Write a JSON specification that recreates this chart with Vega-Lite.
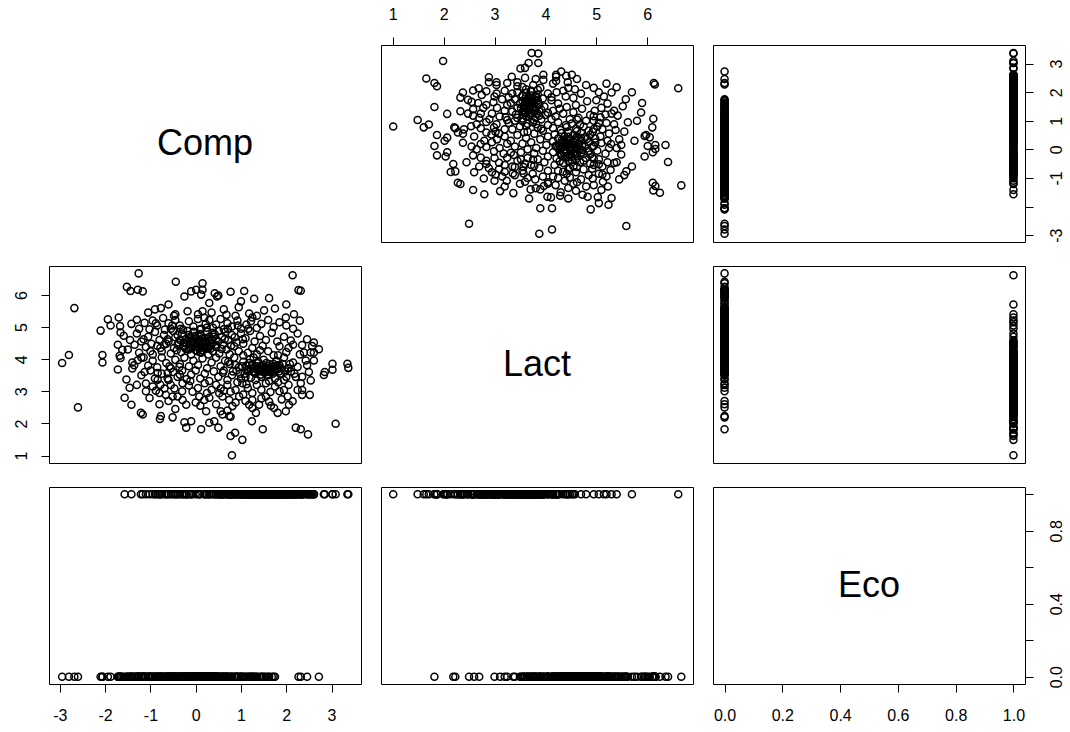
{
"$schema": "https://vega.github.io/schema/vega-lite/v6.json",
"background": "white",
"padding": {"left": 12, "top": 5, "right": 5, "bottom": 5},
"config": {
  "font": "Liberation Sans",
  "view": {"stroke": "black", "strokeWidth": 1},
  "axis": {"grid": false, "domain": false, "ticks": true, "tickColor": "black", "tickSize": 8, "tickWidth": 1, "labelFont": "Liberation Sans", "labelFontSize": 16, "labelColor": "black", "labelPadding": 15, "labelFlush": false, "labelOverlap": false},
  "point": {"shape": "circle", "filled": false, "size": 50, "strokeWidth": 1.5, "opacity": 1, "color": "black"}
},
"columns": 3,
"spacing": {"row": 24, "column": 20},
"bounds": "flush",
"resolve": {"scale": {"x": "independent", "y": "independent"}, "axis": {"x": "independent", "y": "independent"}},
"data": {"values": [
{"Comp":-1.52,"Lact":6.25,"Eco":0},{"Comp":-1.44,"Lact":6.12,"Eco":0},{"Comp":-2.68,"Lact":5.59,"Eco":0},{"Comp":-1.94,"Lact":5.24,"Eco":0},{"Comp":-1.70,"Lact":5.30,"Eco":0},{"Comp":-1.88,"Lact":5.05,"Eco":0},{"Comp":-1.67,"Lact":5.03,"Eco":0},{"Comp":-1.42,"Lact":5.10,"Eco":0},{"Comp":-2.10,"Lact":4.89,"Eco":0},{"Comp":-1.66,"Lact":4.83,"Eco":0},{"Comp":-1.59,"Lact":4.73,"Eco":0},{"Comp":-1.72,"Lact":4.45,"Eco":0},{"Comp":-1.62,"Lact":4.29,"Eco":0},{"Comp":-1.68,"Lact":4.11,"Eco":0},{"Comp":-1.66,"Lact":4.04,"Eco":0},{"Comp":-2.80,"Lact":4.13,"Eco":0},{"Comp":-2.95,"Lact":3.88,"Eco":0},{"Comp":-2.06,"Lact":4.13,"Eco":0},{"Comp":-2.06,"Lact":3.90,"Eco":0},{"Comp":-1.72,"Lact":3.68,"Eco":0},{"Comp":-1.40,"Lact":3.71,"Eco":0},{"Comp":-1.53,"Lact":3.37,"Eco":0},{"Comp":-1.46,"Lact":3.11,"Eco":0},{"Comp":-1.57,"Lact":2.80,"Eco":1},{"Comp":-1.42,"Lact":2.58,"Eco":1},{"Comp":-2.60,"Lact":2.50,"Eco":0},{"Comp":-1.26,"Lact":6.67,"Eco":0},{"Comp":-0.44,"Lact":6.41,"Eco":0},{"Comp":0.15,"Lact":6.36,"Eco":0},{"Comp":0.01,"Lact":6.16,"Eco":0},{"Comp":-0.10,"Lact":6.11,"Eco":0},{"Comp":-0.25,"Lact":5.95,"Eco":0},{"Comp":0.15,"Lact":6.16,"Eco":0},{"Comp":0.12,"Lact":6.01,"Eco":0},{"Comp":0.47,"Lact":5.95,"Eco":0},{"Comp":-1.28,"Lact":6.16,"Eco":0},{"Comp":-1.17,"Lact":6.11,"Eco":0},{"Comp":-0.77,"Lact":5.59,"Eco":0},{"Comp":-0.18,"Lact":5.49,"Eco":0},{"Comp":0.15,"Lact":5.49,"Eco":0},{"Comp":0.19,"Lact":5.29,"Eco":0},{"Comp":0.50,"Lact":5.98,"Eco":0},{"Comp":0.77,"Lact":6.10,"Eco":0},{"Comp":1.07,"Lact":6.12,"Eco":0},{"Comp":0.88,"Lact":5.35,"Eco":0},{"Comp":1.29,"Lact":5.88,"Eco":0},{"Comp":1.51,"Lact":5.52,"Eco":0},{"Comp":1.75,"Lact":5.58,"Eco":0},{"Comp":1.18,"Lact":5.42,"Eco":0},{"Comp":1.99,"Lact":5.30,"Eco":1},{"Comp":2.17,"Lact":5.40,"Eco":1},{"Comp":2.14,"Lact":6.61,"Eco":1},{"Comp":2.27,"Lact":6.15,"Eco":0},{"Comp":2.32,"Lact":6.13,"Eco":0},{"Comp":-1.36,"Lact":3.81,"Eco":0},{"Comp":-1.13,"Lact":3.60,"Eco":0},{"Comp":-1.10,"Lact":3.24,"Eco":1},{"Comp":-0.84,"Lact":3.57,"Eco":0},{"Comp":-0.84,"Lact":3.36,"Eco":1},{"Comp":-0.62,"Lact":3.57,"Eco":0},{"Comp":-0.58,"Lact":3.78,"Eco":0},{"Comp":-0.36,"Lact":3.76,"Eco":0},{"Comp":-0.69,"Lact":3.09,"Eco":1},{"Comp":-0.66,"Lact":2.89,"Eco":1},{"Comp":-0.47,"Lact":3.09,"Eco":1},{"Comp":-0.29,"Lact":3.25,"Eco":0},{"Comp":-0.51,"Lact":2.84,"Eco":1},{"Comp":-0.40,"Lact":2.84,"Eco":1},{"Comp":-0.29,"Lact":2.73,"Eco":1},{"Comp":-0.21,"Lact":2.58,"Eco":1},{"Comp":-0.07,"Lact":2.99,"Eco":1},{"Comp":0.08,"Lact":2.84,"Eco":1},{"Comp":0.19,"Lact":2.73,"Eco":1},{"Comp":-1.02,"Lact":2.79,"Eco":1},{"Comp":-1.21,"Lact":2.33,"Eco":1},{"Comp":-1.17,"Lact":2.28,"Eco":1},{"Comp":-0.77,"Lact":2.23,"Eco":0},{"Comp":-0.79,"Lact":2.14,"Eco":1},{"Comp":-0.51,"Lact":2.19,"Eco":0},{"Comp":-0.25,"Lact":2.04,"Eco":1},{"Comp":-0.10,"Lact":2.07,"Eco":1},{"Comp":-0.21,"Lact":1.87,"Eco":1},{"Comp":0.23,"Lact":2.38,"Eco":1},{"Comp":0.12,"Lact":1.82,"Eco":0},{"Comp":0.30,"Lact":2.02,"Eco":1},{"Comp":0.41,"Lact":2.07,"Eco":1},
{"Comp":0.55,"Lact":2.38,"Eco":1},{"Comp":0.59,"Lact":2.28,"Eco":1},{"Comp":0.74,"Lact":2.23,"Eco":1},{"Comp":0.77,"Lact":2.21,"Eco":1},{"Comp":1.33,"Lact":2.33,"Eco":1},{"Comp":1.81,"Lact":2.33,"Eco":1},{"Comp":1.99,"Lact":2.38,"Eco":1},{"Comp":1.24,"Lact":2.07,"Eco":1},{"Comp":1.48,"Lact":1.82,"Eco":1},{"Comp":2.21,"Lact":1.87,"Eco":1},{"Comp":0.77,"Lact":1.61,"Eco":1},{"Comp":0.87,"Lact":1.71,"Eco":1},{"Comp":1.03,"Lact":1.49,"Eco":1},{"Comp":0.80,"Lact":1.01,"Eco":1},{"Comp":0.50,"Lact":1.87,"Eco":1},{"Comp":3.09,"Lact":1.99,"Eco":1},{"Comp":2.32,"Lact":1.82,"Eco":1},{"Comp":2.48,"Lact":1.66,"Eco":1},
{"Comp":2.46,"Lact":4.62,"Eco":0},{"Comp":2.35,"Lact":4.44,"Eco":1},{"Comp":2.57,"Lact":4.41,"Eco":1},{"Comp":2.72,"Lact":4.31,"Eco":0},{"Comp":2.61,"Lact":4.52,"Eco":1},{"Comp":2.54,"Lact":4.21,"Eco":1},{"Comp":2.39,"Lact":4.21,"Eco":1},{"Comp":2.61,"Lact":4.21,"Eco":1},{"Comp":2.43,"Lact":3.96,"Eco":1},{"Comp":2.61,"Lact":3.96,"Eco":1},{"Comp":3.02,"Lact":3.86,"Eco":1},{"Comp":3.35,"Lact":3.86,"Eco":1},{"Comp":2.46,"Lact":3.81,"Eco":1},{"Comp":2.50,"Lact":3.60,"Eco":1},{"Comp":2.54,"Lact":3.34,"Eco":1},{"Comp":2.35,"Lact":3.45,"Eco":1},{"Comp":2.32,"Lact":3.25,"Eco":1},{"Comp":2.35,"Lact":3.04,"Eco":1},{"Comp":2.52,"Lact":2.89,"Eco":1},{"Comp":2.35,"Lact":2.89,"Eco":1},{"Comp":2.85,"Lact":3.60,"Eco":1},{"Comp":3.02,"Lact":3.67,"Eco":1},{"Comp":3.37,"Lact":3.73,"Eco":1},{"Comp":2.83,"Lact":3.51,"Eco":1},
{"Comp":0.81,"Lact":2.54,"Eco":1},{"Comp":1.55,"Lact":2.84,"Eco":1},{"Comp":1.66,"Lact":2.55,"Eco":1},{"Comp":1.73,"Lact":2.48,"Eco":1},{"Comp":1.25,"Lact":2.73,"Eco":1},{"Comp":1.25,"Lact":2.48,"Eco":1},{"Comp":1.40,"Lact":2.58,"Eco":1},{"Comp":1.18,"Lact":2.58,"Eco":1},{"Comp":0.96,"Lact":2.84,"Eco":1},{"Comp":0.88,"Lact":3.04,"Eco":1},{"Comp":0.74,"Lact":2.73,"Eco":1},{"Comp":0.59,"Lact":2.84,"Eco":1},{"Comp":0.52,"Lact":2.94,"Eco":1},{"Comp":0.55,"Lact":3.09,"Eco":1},{"Comp":0.77,"Lact":2.99,"Eco":1},{"Comp":1.03,"Lact":3.25,"Eco":1},{"Comp":2.25,"Lact":3.76,"Eco":1},{"Comp":2.21,"Lact":3.45,"Eco":1},{"Comp":2.03,"Lact":3.71,"Eco":1},{"Comp":1.88,"Lact":3.55,"Eco":1},{"Comp":1.73,"Lact":3.65,"Eco":1},{"Comp":1.81,"Lact":3.81,"Eco":1},{"Comp":2.03,"Lact":2.84,"Eco":1},{"Comp":2.06,"Lact":2.58,"Eco":1},{"Comp":2.14,"Lact":2.69,"Eco":1},{"Comp":1.95,"Lact":3.04,"Eco":1},{"Comp":2.25,"Lact":3.04,"Eco":1},
{"Comp":-1.30,"Lact":5.23,"Eco":0},{"Comp":-1.13,"Lact":5.13,"Eco":0},{"Comp":-1.02,"Lact":4.93,"Eco":0},{"Comp":-0.95,"Lact":5.20,"Eco":0},{"Comp":-0.85,"Lact":5.05,"Eco":0},{"Comp":-0.72,"Lact":5.28,"Eco":0},{"Comp":-0.60,"Lact":5.12,"Eco":0},{"Comp":-0.55,"Lact":4.95,"Eco":0},{"Comp":-0.45,"Lact":5.22,"Eco":0},{"Comp":-0.35,"Lact":5.05,"Eco":0},{"Comp":-0.28,"Lact":4.92,"Eco":0},{"Comp":-0.15,"Lact":5.18,"Eco":0},{"Comp":-0.05,"Lact":5.02,"Eco":0},{"Comp":0.05,"Lact":5.25,"Eco":0},{"Comp":0.12,"Lact":4.95,"Eco":0},{"Comp":0.22,"Lact":5.10,"Eco":0},{"Comp":0.30,"Lact":5.22,"Eco":0},{"Comp":0.38,"Lact":4.98,"Eco":0},{"Comp":0.45,"Lact":5.08,"Eco":0},{"Comp":0.55,"Lact":5.25,"Eco":0},{"Comp":0.62,"Lact":4.93,"Eco":0},{"Comp":0.70,"Lact":5.12,"Eco":0},{"Comp":0.80,"Lact":5.02,"Eco":0},{"Comp":0.92,"Lact":5.20,"Eco":0},{"Comp":1.00,"Lact":4.95,"Eco":0},{"Comp":1.12,"Lact":5.08,"Eco":0},{"Comp":1.22,"Lact":5.18,"Eco":0},{"Comp":1.35,"Lact":4.97,"Eco":0},{"Comp":1.45,"Lact":5.10,"Eco":0},{"Comp":1.60,"Lact":5.22,"Eco":0},{"Comp":1.72,"Lact":5.00,"Eco":0},{"Comp":1.85,"Lact":5.15,"Eco":1},{"Comp":2.00,"Lact":5.05,"Eco":1},{"Comp":2.15,"Lact":4.95,"Eco":1},{"Comp":2.30,"Lact":5.20,"Eco":1},
{"Comp":-1.45,"Lact":4.60,"Eco":0},{"Comp":-1.30,"Lact":4.80,"Eco":0},{"Comp":-1.20,"Lact":4.55,"Eco":0},{"Comp":-1.05,"Lact":4.70,"Eco":0},{"Comp":-0.90,"Lact":4.85,"Eco":0},{"Comp":-0.80,"Lact":4.60,"Eco":0},{"Comp":-0.70,"Lact":4.75,"Eco":0},{"Comp":-0.60,"Lact":4.55,"Eco":0},{"Comp":-0.50,"Lact":4.88,"Eco":0},{"Comp":-0.45,"Lact":4.68,"Eco":0},{"Comp":-0.38,"Lact":4.52,"Eco":0},{"Comp":-0.30,"Lact":4.80,"Eco":0},{"Comp":-0.22,"Lact":4.62,"Eco":0},{"Comp":-0.15,"Lact":4.75,"Eco":0},{"Comp":-0.10,"Lact":4.55,"Eco":0},{"Comp":-0.05,"Lact":4.85,"Eco":0},{"Comp":0.00,"Lact":4.68,"Eco":0},{"Comp":0.05,"Lact":4.58,"Eco":0},{"Comp":0.10,"Lact":4.78,"Eco":0},{"Comp":0.15,"Lact":4.65,"Eco":0},{"Comp":0.20,"Lact":4.52,"Eco":0},{"Comp":0.25,"Lact":4.85,"Eco":0},{"Comp":0.30,"Lact":4.70,"Eco":0},{"Comp":0.35,"Lact":4.60,"Eco":0},{"Comp":0.42,"Lact":4.78,"Eco":0},{"Comp":0.50,"Lact":4.55,"Eco":0},{"Comp":0.58,"Lact":4.70,"Eco":0},{"Comp":0.65,"Lact":4.85,"Eco":0},{"Comp":0.72,"Lact":4.60,"Eco":0},{"Comp":0.80,"Lact":4.75,"Eco":0},{"Comp":0.90,"Lact":4.52,"Eco":0},{"Comp":1.00,"Lact":4.80,"Eco":0},{"Comp":1.10,"Lact":4.65,"Eco":0},{"Comp":1.20,"Lact":4.88,"Eco":0},{"Comp":1.30,"Lact":4.55,"Eco":0},{"Comp":1.42,"Lact":4.72,"Eco":0},{"Comp":1.55,"Lact":4.60,"Eco":0},{"Comp":1.68,"Lact":4.82,"Eco":0},{"Comp":1.80,"Lact":4.55,"Eco":1},{"Comp":1.95,"Lact":4.70,"Eco":1},{"Comp":2.10,"Lact":4.58,"Eco":1},{"Comp":2.25,"Lact":4.80,"Eco":1},
{"Comp":-1.50,"Lact":4.30,"Eco":0},{"Comp":-1.35,"Lact":4.45,"Eco":0},{"Comp":-1.25,"Lact":4.20,"Eco":0},{"Comp":-1.10,"Lact":4.38,"Eco":0},{"Comp":-0.95,"Lact":4.15,"Eco":0},{"Comp":-0.85,"Lact":4.42,"Eco":0},{"Comp":-0.75,"Lact":4.25,"Eco":0},{"Comp":-0.65,"Lact":4.48,"Eco":0},{"Comp":-0.55,"Lact":4.18,"Eco":0},{"Comp":-0.48,"Lact":4.35,"Eco":0},{"Comp":-0.40,"Lact":4.45,"Eco":0},{"Comp":-0.32,"Lact":4.22,"Eco":0},{"Comp":-0.25,"Lact":4.38,"Eco":0},{"Comp":-0.20,"Lact":4.48,"Eco":0},{"Comp":-0.15,"Lact":4.30,"Eco":0},{"Comp":-0.10,"Lact":4.15,"Eco":0},{"Comp":-0.05,"Lact":4.42,"Eco":0},{"Comp":0.00,"Lact":4.28,"Eco":0},{"Comp":0.02,"Lact":4.50,"Eco":0},{"Comp":0.08,"Lact":4.35,"Eco":0},{"Comp":0.12,"Lact":4.20,"Eco":0},{"Comp":0.18,"Lact":4.45,"Eco":0},{"Comp":0.22,"Lact":4.32,"Eco":0},{"Comp":0.28,"Lact":4.15,"Eco":0},{"Comp":0.32,"Lact":4.42,"Eco":0},{"Comp":0.38,"Lact":4.25,"Eco":0},{"Comp":0.45,"Lact":4.38,"Eco":0},{"Comp":0.52,"Lact":4.18,"Eco":0},{"Comp":0.60,"Lact":4.45,"Eco":0},{"Comp":0.68,"Lact":4.30,"Eco":0},{"Comp":0.75,"Lact":4.15,"Eco":1},{"Comp":0.85,"Lact":4.40,"Eco":0},{"Comp":0.95,"Lact":4.25,"Eco":1},{"Comp":1.05,"Lact":4.48,"Eco":1},{"Comp":1.15,"Lact":4.20,"Eco":1},{"Comp":1.25,"Lact":4.35,"Eco":0},{"Comp":1.35,"Lact":4.15,"Eco":1},{"Comp":1.48,"Lact":4.42,"Eco":0},{"Comp":1.60,"Lact":4.25,"Eco":1},{"Comp":1.72,"Lact":4.12,"Eco":1},{"Comp":1.85,"Lact":4.40,"Eco":1},{"Comp":2.00,"Lact":4.22,"Eco":1},{"Comp":2.15,"Lact":4.45,"Eco":1},{"Comp":2.30,"Lact":4.15,"Eco":1},
{"Comp":-0.18,"Lact":4.58,"Eco":0},{"Comp":-0.08,"Lact":4.40,"Eco":0},{"Comp":0.04,"Lact":4.62,"Eco":0},{"Comp":0.14,"Lact":4.28,"Eco":0},{"Comp":0.26,"Lact":4.55,"Eco":0},{"Comp":0.36,"Lact":4.48,"Eco":0},{"Comp":-0.28,"Lact":4.42,"Eco":0},{"Comp":0.06,"Lact":4.46,"Eco":0},{"Comp":0.20,"Lact":4.66,"Eco":0},{"Comp":-0.12,"Lact":4.70,"Eco":0},{"Comp":0.32,"Lact":4.32,"Eco":0},{"Comp":0.10,"Lact":4.22,"Eco":0},{"Comp":-0.35,"Lact":4.60,"Eco":0},{"Comp":0.45,"Lact":4.62,"Eco":0},{"Comp":0.00,"Lact":4.38,"Eco":0},{"Comp":0.24,"Lact":4.40,"Eco":0},
{"Comp":-1.40,"Lact":3.90,"Eco":0},{"Comp":-1.28,"Lact":3.97,"Eco":0},{"Comp":-1.15,"Lact":4.05,"Eco":0},{"Comp":-1.05,"Lact":3.80,"Eco":0},{"Comp":-0.95,"Lact":3.95,"Eco":0},{"Comp":-0.85,"Lact":3.75,"Eco":0},{"Comp":-0.75,"Lact":4.05,"Eco":0},{"Comp":-0.65,"Lact":3.88,"Eco":0},{"Comp":-0.55,"Lact":3.72,"Eco":0},{"Comp":-0.45,"Lact":3.98,"Eco":0},{"Comp":-0.35,"Lact":3.85,"Eco":0},{"Comp":-0.25,"Lact":4.05,"Eco":0},{"Comp":-0.15,"Lact":3.78,"Eco":0},{"Comp":-0.05,"Lact":3.95,"Eco":0},{"Comp":0.05,"Lact":3.82,"Eco":0},{"Comp":0.15,"Lact":4.02,"Eco":0},{"Comp":0.25,"Lact":3.72,"Eco":0},{"Comp":0.35,"Lact":3.90,"Eco":0},{"Comp":0.45,"Lact":4.05,"Eco":0},{"Comp":0.55,"Lact":3.78,"Eco":1},{"Comp":0.65,"Lact":3.95,"Eco":1},{"Comp":0.75,"Lact":3.85,"Eco":1},{"Comp":0.85,"Lact":4.05,"Eco":1},{"Comp":0.95,"Lact":3.75,"Eco":1},{"Comp":1.05,"Lact":3.92,"Eco":1},{"Comp":1.12,"Lact":3.80,"Eco":1},{"Comp":1.20,"Lact":4.00,"Eco":1},{"Comp":1.28,"Lact":3.72,"Eco":1},{"Comp":1.35,"Lact":3.88,"Eco":1},{"Comp":1.42,"Lact":3.78,"Eco":1},{"Comp":1.50,"Lact":3.98,"Eco":1},{"Comp":1.55,"Lact":3.72,"Eco":1},{"Comp":1.62,"Lact":3.85,"Eco":1},{"Comp":1.70,"Lact":3.75,"Eco":1},{"Comp":1.78,"Lact":3.95,"Eco":1},{"Comp":1.85,"Lact":3.82,"Eco":1},{"Comp":1.95,"Lact":4.05,"Eco":1},{"Comp":2.05,"Lact":3.72,"Eco":1},{"Comp":2.15,"Lact":3.90,"Eco":1},
{"Comp":1.15,"Lact":3.62,"Eco":1},{"Comp":1.25,"Lact":3.85,"Eco":1},{"Comp":1.32,"Lact":3.55,"Eco":1},{"Comp":1.40,"Lact":3.70,"Eco":1},{"Comp":1.48,"Lact":3.82,"Eco":1},{"Comp":1.52,"Lact":3.58,"Eco":1},{"Comp":1.58,"Lact":3.68,"Eco":1},{"Comp":1.65,"Lact":3.60,"Eco":1},{"Comp":1.72,"Lact":3.85,"Eco":1},{"Comp":1.80,"Lact":3.68,"Eco":1},{"Comp":1.38,"Lact":3.92,"Eco":1},{"Comp":1.45,"Lact":3.62,"Eco":1},{"Comp":1.60,"Lact":3.78,"Eco":1},{"Comp":1.68,"Lact":3.70,"Eco":1},{"Comp":1.22,"Lact":3.70,"Eco":1},{"Comp":1.88,"Lact":3.72,"Eco":1},
{"Comp":-1.20,"Lact":3.50,"Eco":0},{"Comp":-1.00,"Lact":3.65,"Eco":0},{"Comp":-0.90,"Lact":3.40,"Eco":1},{"Comp":-0.75,"Lact":3.55,"Eco":1},{"Comp":-0.60,"Lact":3.35,"Eco":1},{"Comp":-0.50,"Lact":3.60,"Eco":0},{"Comp":-0.40,"Lact":3.45,"Eco":1},{"Comp":-0.30,"Lact":3.65,"Eco":0},{"Comp":-0.20,"Lact":3.38,"Eco":1},{"Comp":-0.10,"Lact":3.52,"Eco":0},{"Comp":0.00,"Lact":3.65,"Eco":0},{"Comp":0.10,"Lact":3.40,"Eco":0},{"Comp":0.20,"Lact":3.55,"Eco":0},{"Comp":0.30,"Lact":3.32,"Eco":1},{"Comp":0.40,"Lact":3.62,"Eco":1},{"Comp":0.50,"Lact":3.45,"Eco":1},{"Comp":0.60,"Lact":3.58,"Eco":1},{"Comp":0.70,"Lact":3.35,"Eco":1},{"Comp":0.80,"Lact":3.50,"Eco":1},{"Comp":0.90,"Lact":3.65,"Eco":1},{"Comp":1.00,"Lact":3.40,"Eco":1},{"Comp":1.08,"Lact":3.55,"Eco":1},{"Comp":1.15,"Lact":3.68,"Eco":1},{"Comp":1.22,"Lact":3.42,"Eco":1},{"Comp":1.30,"Lact":3.58,"Eco":1},{"Comp":1.38,"Lact":3.65,"Eco":1},{"Comp":1.45,"Lact":3.45,"Eco":1},{"Comp":1.52,"Lact":3.60,"Eco":1},{"Comp":1.60,"Lact":3.50,"Eco":1},{"Comp":1.68,"Lact":3.68,"Eco":1},{"Comp":1.75,"Lact":3.40,"Eco":1},{"Comp":1.88,"Lact":3.55,"Eco":1},{"Comp":2.00,"Lact":3.45,"Eco":1},{"Comp":2.10,"Lact":3.62,"Eco":1},
{"Comp":-1.30,"Lact":3.20,"Eco":0},{"Comp":-1.10,"Lact":3.00,"Eco":0},{"Comp":-0.95,"Lact":3.15,"Eco":1},{"Comp":-0.80,"Lact":2.95,"Eco":1},{"Comp":-0.55,"Lact":3.20,"Eco":1},{"Comp":-0.30,"Lact":3.00,"Eco":1},{"Comp":-0.15,"Lact":3.18,"Eco":1},{"Comp":0.05,"Lact":3.10,"Eco":1},{"Comp":0.20,"Lact":3.25,"Eco":1},{"Comp":0.35,"Lact":3.05,"Eco":1},{"Comp":0.70,"Lact":3.20,"Eco":1},{"Comp":1.15,"Lact":3.10,"Eco":1},{"Comp":1.25,"Lact":2.95,"Eco":1},{"Comp":1.35,"Lact":3.20,"Eco":1},{"Comp":1.45,"Lact":3.05,"Eco":1},{"Comp":1.55,"Lact":3.25,"Eco":1},{"Comp":1.65,"Lact":2.98,"Eco":1},{"Comp":1.75,"Lact":3.15,"Eco":1},{"Comp":1.85,"Lact":3.00,"Eco":1},{"Comp":2.05,"Lact":3.20,"Eco":1},
{"Comp":0.00,"Lact":2.65,"Eco":1},{"Comp":0.30,"Lact":2.80,"Eco":1},{"Comp":0.45,"Lact":2.60,"Eco":1},{"Comp":1.10,"Lact":2.70,"Eco":1},{"Comp":1.90,"Lact":2.75,"Eco":1},{"Comp":-0.80,"Lact":2.60,"Eco":0},{"Comp":-0.60,"Lact":2.70,"Eco":0},
{"Comp":0.35,"Lact":5.45,"Eco":0},{"Comp":0.62,"Lact":5.55,"Eco":0},{"Comp":0.95,"Lact":5.62,"Eco":0},{"Comp":1.35,"Lact":5.35,"Eco":0},{"Comp":-0.45,"Lact":5.40,"Eco":0},{"Comp":-1.05,"Lact":5.45,"Eco":0},{"Comp":-0.60,"Lact":5.70,"Eco":0},{"Comp":0.30,"Lact":5.75,"Eco":0},{"Comp":1.00,"Lact":5.80,"Eco":0},{"Comp":1.62,"Lact":5.90,"Eco":0},{"Comp":2.00,"Lact":5.70,"Eco":1},
{"Comp":-1.25,"Lact":4.95,"Eco":0},{"Comp":-1.15,"Lact":4.62,"Eco":0},{"Comp":-0.98,"Lact":4.48,"Eco":0},{"Comp":-0.88,"Lact":5.12,"Eco":0},{"Comp":-0.78,"Lact":4.35,"Eco":0},{"Comp":-0.68,"Lact":4.92,"Eco":0},{"Comp":-0.62,"Lact":4.62,"Eco":0},{"Comp":-0.52,"Lact":5.05,"Eco":0},{"Comp":-0.42,"Lact":4.28,"Eco":0},{"Comp":-0.33,"Lact":4.95,"Eco":0},{"Comp":-0.27,"Lact":4.52,"Eco":0},{"Comp":-0.18,"Lact":4.88,"Eco":0},{"Comp":-0.12,"Lact":4.36,"Eco":0},{"Comp":-0.02,"Lact":4.72,"Eco":0},{"Comp":0.04,"Lact":4.25,"Eco":0},{"Comp":0.09,"Lact":4.92,"Eco":0},{"Comp":0.16,"Lact":4.55,"Eco":0},{"Comp":0.24,"Lact":4.98,"Eco":0},{"Comp":0.31,"Lact":4.58,"Eco":0},{"Comp":0.37,"Lact":4.82,"Eco":0},{"Comp":0.44,"Lact":4.45,"Eco":0},{"Comp":0.51,"Lact":4.88,"Eco":0},{"Comp":0.57,"Lact":4.32,"Eco":0},{"Comp":0.64,"Lact":4.62,"Eco":0},{"Comp":0.71,"Lact":4.95,"Eco":0},{"Comp":0.78,"Lact":4.42,"Eco":0},{"Comp":0.86,"Lact":4.68,"Eco":0},{"Comp":0.93,"Lact":5.05,"Eco":0},{"Comp":1.04,"Lact":4.62,"Eco":0},{"Comp":1.16,"Lact":4.95,"Eco":0},{"Comp":-0.05,"Lact":4.52,"Eco":0},{"Comp":0.08,"Lact":4.58,"Eco":0},{"Comp":-0.22,"Lact":4.32,"Eco":0},{"Comp":0.28,"Lact":4.35,"Eco":0},{"Comp":0.18,"Lact":4.38,"Eco":0},{"Comp":-0.15,"Lact":4.62,"Eco":0},{"Comp":0.12,"Lact":4.72,"Eco":0},{"Comp":0.40,"Lact":4.70,"Eco":0},{"Comp":-0.40,"Lact":4.75,"Eco":0},{"Comp":-0.70,"Lact":4.45,"Eco":0},{"Comp":-1.00,"Lact":4.25,"Eco":0},{"Comp":-1.20,"Lact":4.05,"Eco":0},{"Comp":-0.48,"Lact":5.35,"Eco":0},{"Comp":0.05,"Lact":5.40,"Eco":0},{"Comp":0.68,"Lact":5.38,"Eco":0},{"Comp":1.25,"Lact":5.30,"Eco":0},{"Comp":-0.90,"Lact":5.55,"Eco":0},{"Comp":0.42,"Lact":6.05,"Eco":0},
{"Comp":0.62,"Lact":3.65,"Eco":1},{"Comp":0.72,"Lact":3.92,"Eco":1},{"Comp":0.82,"Lact":3.62,"Eco":1},{"Comp":0.88,"Lact":3.82,"Eco":1},{"Comp":0.98,"Lact":3.55,"Eco":1},{"Comp":1.02,"Lact":3.78,"Eco":1},{"Comp":1.10,"Lact":3.45,"Eco":1},{"Comp":1.18,"Lact":3.88,"Eco":1},{"Comp":1.26,"Lact":3.62,"Eco":1},{"Comp":1.34,"Lact":3.78,"Eco":1},{"Comp":1.44,"Lact":3.52,"Eco":1},{"Comp":1.50,"Lact":3.70,"Eco":1},{"Comp":1.56,"Lact":3.88,"Eco":1},{"Comp":1.62,"Lact":3.62,"Eco":1},{"Comp":1.70,"Lact":3.55,"Eco":1},{"Comp":1.76,"Lact":3.78,"Eco":1},{"Comp":1.84,"Lact":3.62,"Eco":1},{"Comp":1.92,"Lact":3.85,"Eco":1},{"Comp":1.98,"Lact":3.62,"Eco":1},{"Comp":2.08,"Lact":3.85,"Eco":1},{"Comp":2.18,"Lact":3.55,"Eco":1},{"Comp":1.36,"Lact":3.68,"Eco":1},{"Comp":1.46,"Lact":3.75,"Eco":1},{"Comp":1.54,"Lact":3.66,"Eco":1},{"Comp":1.64,"Lact":3.74,"Eco":1},{"Comp":1.28,"Lact":3.60,"Eco":1},{"Comp":1.74,"Lact":3.70,"Eco":1},{"Comp":0.92,"Lact":3.28,"Eco":1},{"Comp":1.12,"Lact":3.22,"Eco":1},{"Comp":1.32,"Lact":3.35,"Eco":1},{"Comp":1.62,"Lact":3.32,"Eco":1},{"Comp":1.82,"Lact":3.28,"Eco":1},{"Comp":1.95,"Lact":3.35,"Eco":1},{"Comp":0.45,"Lact":3.20,"Eco":1},{"Comp":0.62,"Lact":3.02,"Eco":1},{"Comp":0.88,"Lact":2.65,"Eco":1},{"Comp":1.05,"Lact":2.90,"Eco":1},{"Comp":1.45,"Lact":2.78,"Eco":1},{"Comp":1.62,"Lact":2.68,"Eco":1},{"Comp":0.25,"Lact":2.95,"Eco":1},{"Comp":0.10,"Lact":2.55,"Eco":1},{"Comp":-0.45,"Lact":2.45,"Eco":1},{"Comp":-0.62,"Lact":3.40,"Eco":1},{"Comp":-0.78,"Lact":3.20,"Eco":1},{"Comp":-0.35,"Lact":3.52,"Eco":1},{"Comp":-0.88,"Lact":3.02,"Eco":1},{"Comp":-0.12,"Lact":3.32,"Eco":1},{"Comp":1.05,"Lact":4.12,"Eco":1},{"Comp":1.28,"Lact":4.05,"Eco":1},{"Comp":1.82,"Lact":4.12,"Eco":1},{"Comp":2.05,"Lact":4.35,"Eco":1},{"Comp":1.42,"Lact":4.28,"Eco":1},{"Comp":0.70,"Lact":2.40,"Eco":1}
]},
"concat": [
  {"width": 312, "height": 197, "data": {"values": [{"label": "Comp"}]},
   "mark": {"type": "text", "fontSize": 36, "font": "Liberation Sans", "color": "black"},
   "encoding": {"text": {"field": "label"}}},
  {"width": 312, "height": 197, "mark": "point",
   "encoding": {
     "x": {"field": "Lact", "type": "quantitative", "scale": {"domain": [0.77, 6.9], "nice": false, "zero": false}, "axis": {"orient": "top", "values": [1,2,3,4,5,6], "title": null}},
     "y": {"field": "Comp", "type": "quantitative", "scale": {"domain": [-3.24, 3.65], "nice": false, "zero": false}, "axis": null}}},
  {"width": 312, "height": 197, "mark": "point",
   "encoding": {
     "x": {"field": "Eco", "type": "quantitative", "scale": {"domain": [-0.04, 1.04], "nice": false, "zero": false}, "axis": null},
     "y": {"field": "Comp", "type": "quantitative", "scale": {"domain": [-3.24, 3.65], "nice": false, "zero": false}, "axis": {"orient": "right", "values": [-3,-2,-1,0,1,2,3], "labelAngle": 270, "labelExpr": "datum.value == -2 ? '' : '' + datum.value", "title": null}}}},
  {"width": 312, "height": 197, "mark": "point",
   "encoding": {
     "x": {"field": "Comp", "type": "quantitative", "scale": {"domain": [-3.24, 3.65], "nice": false, "zero": false}, "axis": null},
     "y": {"field": "Lact", "type": "quantitative", "scale": {"domain": [0.77, 6.9], "nice": false, "zero": false}, "axis": {"orient": "left", "values": [1,2,3,4,5,6], "labelAngle": 270, "labelPadding": 12, "title": null}}}},
  {"width": 312, "height": 197, "data": {"values": [{"label": "Lact"}]},
   "mark": {"type": "text", "fontSize": 36, "font": "Liberation Sans", "color": "black"},
   "encoding": {"text": {"field": "label"}}},
  {"width": 312, "height": 197, "mark": "point",
   "encoding": {
     "x": {"field": "Eco", "type": "quantitative", "scale": {"domain": [-0.04, 1.04], "nice": false, "zero": false}, "axis": null},
     "y": {"field": "Lact", "type": "quantitative", "scale": {"domain": [0.77, 6.9], "nice": false, "zero": false}, "axis": null}}},
  {"width": 312, "height": 197, "mark": "point",
   "encoding": {
     "x": {"field": "Comp", "type": "quantitative", "scale": {"domain": [-3.24, 3.65], "nice": false, "zero": false}, "axis": {"orient": "bottom", "values": [-3,-2,-1,0,1,2,3], "labelExpr": "'' + datum.value", "title": null}},
     "y": {"field": "Eco", "type": "quantitative", "scale": {"domain": [-0.04, 1.04], "nice": false, "zero": false}, "axis": null}}},
  {"width": 312, "height": 197, "mark": "point",
   "encoding": {
     "x": {"field": "Lact", "type": "quantitative", "scale": {"domain": [0.77, 6.9], "nice": false, "zero": false}, "axis": null},
     "y": {"field": "Eco", "type": "quantitative", "scale": {"domain": [-0.04, 1.04], "nice": false, "zero": false}, "axis": null}}},
  {"width": 312, "height": 197, "data": {"values": [{"label": "Eco"}]},
   "mark": {"type": "text", "fontSize": 36, "font": "Liberation Sans", "color": "black"},
   "encoding": {
     "x": {"datum": 0.5, "type": "quantitative", "scale": {"domain": [-0.04, 1.04], "nice": false, "zero": false}, "axis": {"orient": "bottom", "values": [0,0.2,0.4,0.6,0.8,1], "format": ".1f", "title": null}},
     "y": {"datum": 0.5, "type": "quantitative", "scale": {"domain": [-0.04, 1.04], "nice": false, "zero": false}, "axis": {"orient": "right", "values": [0,0.2,0.4,0.6,0.8,1], "format": ".1f", "labelAngle": 270, "labelExpr": "datum.label == '0.0' || datum.label == '0.4' || datum.label == '0.8' ? datum.label : ''", "title": null}},
     "text": {"field": "label"}}}
]
}
